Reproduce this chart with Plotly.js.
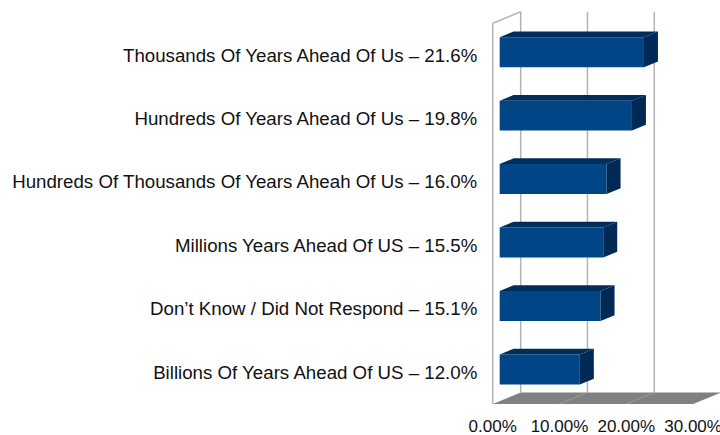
<!DOCTYPE html>
<html>
<head>
<meta charset="utf-8">
<script src="https://cdn.plot.ly/plotly-3.0.1.min.js"></script>
<style>html,body{margin:0;padding:0;background:#fff;}#chart{width:720px;height:435px;}</style>
</head>
<body>
<div id="chart"></div>
<script>
// Data (bottom to top)
const categories = [
  "Billions Of Years Ahead Of US \u2013 12.0%",
  "Don\u2019t Know / Did Not Respond \u2013 15.1%",
  "Millions Years Ahead Of US \u2013 15.5%",
  "Hundreds Of Thousands Of Years Aheah Of Us \u2013 16.0%",
  "Hundreds Of Years Ahead Of Us \u2013 19.8%",
  "Thousands Of Years Ahead Of Us \u2013 21.6%"
];
const values = [12.0, 15.1, 15.5, 16.0, 19.8, 21.6];
const tickValues = [0, 10, 20, 30];
const tickLabels = ["0.00%", "10.00%", "20.00%", "30.00%"];

// pseudo-3D geometry (in axis units)
const D = 4.19;    // full depth offset along x
const E = 0.181;   // full depth offset along y
const d1 = 0.25, d2 = 0.75; // bar depth span
const halfH = 0.236;
const xMax = 30, yTop = 6;

const yCenters = categories.map((c, i) => i + 0.5);
const a1 = D * d1, b1 = E * d1, a2 = D * d2, b2 = E * d2;

const traces = [];
// front faces as bars
traces.push({
  type: 'bar', orientation: 'h',
  y: yCenters.map(c => c + b1),
  x: values,
  base: values.map(() => a1),
  width: halfH * 2,
  marker: {color: '#004586', line: {width: 0}},
  hoverinfo: 'skip'
});
// top and right faces
values.forEach((v, i) => {
  const c = yCenters[i];
  const yt = c + halfH, yb = c - halfH;
  traces.push({
    type: 'scatter', mode: 'lines', fill: 'toself',
    x: [a1, v + a1, v + a2, a2, a1],
    y: [yt + b1, yt + b1, yt + b2, yt + b2, yt + b1],
    line: {width: 0, color: '#002d5a'}, fillcolor: '#002d5a', hoverinfo: 'skip'
  });
  traces.push({
    type: 'scatter', mode: 'lines', fill: 'toself',
    x: [v + a1, v + a2, v + a2, v + a1, v + a1],
    y: [yb + b1, yb + b2, yt + b2, yt + b1, yb + b1],
    line: {width: 0, color: '#002a55'}, fillcolor: '#002a55', hoverinfo: 'skip'
  });
});

const shapes = [];
// floor
shapes.push({type: 'path', layer: 'below', xref: 'x', yref: 'y',
  path: `M 0 0 L ${xMax} 0 L ${xMax + D} ${E} L ${D} ${E} Z`,
  fillcolor: '#808080', line: {width: 0}});
// floor grid lines
tickValues.slice(1, -1).forEach(t => {
  shapes.push({type: 'line', layer: 'below', xref: 'x', yref: 'y',
    x0: t, y0: 0, x1: t + D, y1: E, line: {color: '#9a9a9a', width: 1}});
});
// back wall grid lines
tickValues.forEach(t => {
  shapes.push({type: 'line', layer: 'below', xref: 'x', yref: 'y',
    x0: t + D, y0: E, x1: t + D, y1: yTop + E, line: {color: '#b3b3b3', width: 1.5}});
});
// left wall edges
shapes.push({type: 'line', layer: 'below', xref: 'x', yref: 'y',
  x0: 0, y0: 0, x1: 0, y1: yTop, line: {color: '#b3b3b3', width: 1.5}});
shapes.push({type: 'line', layer: 'below', xref: 'x', yref: 'y',
  x0: 0, y0: yTop, x1: D, y1: yTop + E, line: {color: '#b3b3b3', width: 1.5}});

const fam = '"Liberation Sans", Arial, sans-serif';

Plotly.newPlot('chart', traces, {
  width: 720, height: 435,
  margin: {l: 490, r: 0, t: 5, b: 31},
  paper_bgcolor: '#fff', plot_bgcolor: '#fff',
  showlegend: false,
  font: {family: fam, size: 17, color: '#111'},
  xaxis: {range: [-0.404, 34.03], showgrid: false, zeroline: false, showline: false,
    tickmode: 'array', tickvals: tickValues, ticktext: tickLabels,
    tickfont: {family: fam, size: 17, color: '#111'},
    ticklabeloverflow: 'allow',
    ticks: 'outside', ticklen: 7, tickcolor: 'rgba(0,0,0,0)', fixedrange: true},
  yaxis: {range: [0, 6.2884], showgrid: false, zeroline: false, showline: false,
    tickmode: 'array', tickvals: yCenters, ticktext: categories,
    tickfont: {family: fam, size: 18.7, color: '#111'},
    ticks: 'outside', ticklen: 8, tickcolor: 'rgba(0,0,0,0)', fixedrange: true},
  shapes: shapes
}, {displayModeBar: false, staticPlot: true});
</script>
</body>
</html>
